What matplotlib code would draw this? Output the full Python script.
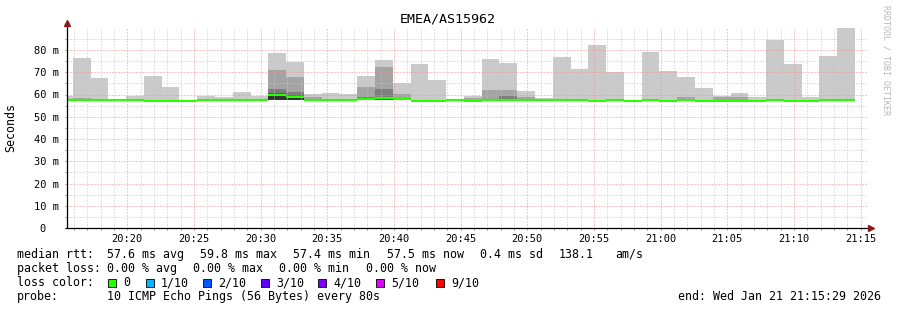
import numpy as np
import matplotlib
matplotlib.use("Agg")
import matplotlib.pyplot as plt
from matplotlib.patches import Rectangle

# ---------------- data ----------------
# time axis: seconds after window start (20:15:29); 80 s RRD steps
window_len = 3600
first_step_edge = 26
step_len = 80

# per step sorted-ping quantiles (ms); nan = layer not present
rtt_max = [59.3, 76.6, 67.4, 57.6, 59.3, 68.3, 63.4, 57.3, 59.2, 58.7,
           61.1, 59.3, 78.8, 74.6, 60.2, 60.7, 60.4, 68.3, 75.5, 65.0,
           73.9, 66.5, 57.6, 59.2, 75.8, 74.2, 61.6, 58.4, 77.0, 71.5,
           82.2, 70.1, 57.3, 79.3, 70.6, 67.9, 62.9, 59.3, 60.7, 58.7,
           84.5, 73.7, 58.9, 77.3, 89.9]
nan = np.nan
rtt_p9 = [nan, 58.4, nan, nan, nan, nan, nan, nan, nan, nan,
          nan, nan, 71.0, 67.9, 58.7, nan, nan, 63.4, 72.4, 60.2,
          nan, nan, nan, 58.5, 62.0, 62.0, 58.7, nan, nan, nan,
          nan, nan, nan, nan, nan, 58.7, nan, 59.1, 59.0, nan,
          nan, nan, nan, nan, nan]
rtt_p8 = [nan, nan, nan, nan, nan, nan, nan, nan, nan, nan,
          nan, nan, 62.5, 61.1, nan, nan, nan, 58.7, 62.5, nan,
          nan, nan, nan, nan, nan, 59.3, nan, nan, nan, nan,
          nan, nan, nan, nan, nan, nan, nan, nan, nan, nan,
          nan, nan, nan, nan, nan]
rtt_p7 = [nan, nan, nan, nan, nan, nan, nan, nan, nan, nan,
          nan, nan, 60.6, 59.6, nan, nan, nan, nan, 59.0, nan,
          nan, nan, nan, nan, nan, nan, nan, nan, nan, nan,
          nan, nan, nan, nan, nan, nan, nan, nan, nan, nan,
          nan, nan, nan, nan, nan]
rtt_p6 = [nan, nan, nan, nan, nan, nan, nan, nan, nan, nan,
          nan, nan, 59.5, 58.8, nan, nan, nan, nan, nan, nan,
          nan, nan, nan, nan, nan, nan, nan, nan, nan, nan,
          nan, nan, nan, nan, nan, nan, nan, nan, nan, nan,
          nan, nan, nan, nan, nan]
rtt_min = [57.3, 57.3, 57.3, 57.3, 57.3, 57.1, 57.1, 57.1, 57.3, 57.3,
           57.3, 57.3, 57.4, 57.4, 57.1, 57.3, 57.3, 57.4, 57.4, 57.4,
           57.1, 57.1, 57.3, 57.1, 57.3, 57.3, 57.3, 57.3, 57.3, 57.3,
           57.1, 57.2, 57.1, 57.3, 57.1, 57.3, 57.1, 57.1, 57.1, 57.1,
           57.3, 57.1, 57.1, 57.3, 57.3]
rtt_median = [57.6, 57.6, 57.6, 57.6, 57.6, 57.3, 57.3, 57.3, 57.6, 57.6,
              57.6, 57.6, 59.8, 59.0, 57.4, 57.6, 57.6, 58.1, 58.4, 58.0,
              57.3, 57.3, 57.6, 57.3, 57.6, 57.6, 57.6, 57.6, 57.6, 57.6,
              57.3, 57.5, 57.3, 57.7, 57.3, 57.6, 57.3, 57.3, 57.3, 57.3,
              57.6, 57.3, 57.3, 57.6, 57.6]

x_tick_labels = ["20:20", "20:25", "20:30", "20:35", "20:40", "20:45",
                 "20:50", "20:55", "21:00", "21:05", "21:10", "21:15"]
first_tick = 271          # 20:20:00 in seconds after 20:15:29
y_tick_values = [0, 10, 20, 30, 40, 50, 60, 70, 80]
y_tick_labels = ["0  ", "10 m", "20 m", "30 m", "40 m", "50 m", "60 m", "70 m", "80 m"]

loss_labels = ["0", "1/10", "2/10", "3/10", "4/10", "5/10", "9/10"]
loss_colors = ["#26ff00", "#00b8ff", "#0059ff", "#5e00ff", "#7e00ff", "#dd00ff", "#ff0000"]

title = "EMEA/AS15962"

# ---------------- figure ----------------
W, H = 897, 310
fig = plt.figure(figsize=(W / 100, H / 100), dpi=100)
fig.patch.set_facecolor("white")
MONO = "DejaVu Sans Mono"


def fx(x):
    return x / W


def fy(y):
    return 1 - y / H


ax = fig.add_axes([fx(67), fy(228), 800 / W, 200.25 / H])
ax.set_xlim(0, window_len)
ax.set_ylim(0, 90)
for s in ax.spines.values():
    s.set_visible(False)

n = len(rtt_max)
edges = np.array([0] + [first_step_edge + step_len * k for k in range(n)], dtype=float)
base = np.array(rtt_min)
layers = [rtt_max, rtt_p9, rtt_p8, rtt_p7, rtt_p6]
layer_colors = ["#cacaca", "#a4a4a4", "#7e7e7e", "#585858", "#323232"]
for vals, col in zip(layers, layer_colors):
    v = np.array(vals, dtype=float)
    v = np.where(np.isnan(v), base, v)
    ax.stairs(v, edges, baseline=base, fill=True, color=col, linewidth=0, zorder=1)

# grid
minor_x = np.arange(31, window_len, 60)
major_x = first_tick + 300 * np.arange(len(x_tick_labels))
for xv in minor_x:
    if np.min(np.abs(major_x - xv)) > 1:
        ax.axvline(xv, color="#c4c4c4", lw=0.72, ls=(0, (1, 2)), zorder=2)
for yv in np.arange(5, 90, 10):
    ax.axhline(yv, color="#c4c4c4", lw=0.72, ls=(0, (1, 2)), zorder=2)
for xv in major_x:
    ax.axvline(xv, color="#f59090", lw=0.72, ls=(0, (1, 2)), zorder=2.1)
for yv in y_tick_values[1:]:
    ax.axhline(yv, color="#f59090", lw=0.72, ls=(0, (1, 2)), zorder=2.1)

# median line
ax.hlines(rtt_median, edges[:-1], edges[1:], color=loss_colors[0], lw=1.5, zorder=3)

# axes with arrows
ax.plot([-0.002, 1.003], [0, 0], transform=ax.transAxes, color="black", lw=0.9,
        clip_on=False, zorder=4, solid_capstyle="butt")
ax.plot([0, 0], [0, 1.02], transform=ax.transAxes, color="black", lw=0.9,
        clip_on=False, zorder=4, solid_capstyle="butt")
ax.plot([1.005], [0], transform=ax.transAxes, marker=">", ms=4.5, color="#8b1a1a",
        mec="#8b1a1a", clip_on=False, zorder=5, ls="none")
ax.plot([0], [1.022], transform=ax.transAxes, marker="^", ms=4.5, color="#8b1a1a",
        mec="#8b1a1a", clip_on=False, zorder=5, ls="none")

ax.set_xticks(major_x)
ax.set_xticklabels(x_tick_labels, fontfamily=MONO, fontsize=7.5)
ax.set_xticks(minor_x, minor=True)
ax.set_yticks(y_tick_values)
ax.set_yticklabels(y_tick_labels, fontfamily=MONO, fontsize=7.5)
ax.set_yticks(np.arange(5, 90, 10), minor=True)
ax.tick_params(axis="both", which="both", length=1.5, width=0.7, color="#909090",
               direction="out")
ax.tick_params(axis="x", which="major", pad=3)
ax.tick_params(axis="y", which="major", pad=4.5)

# title and labels
fig.text(fx(448), fy(19), title, ha="center", va="center", fontfamily=MONO, fontsize=9.6)
fig.text(fx(11), fy(127), "Seconds", ha="center", va="center", rotation=90,
         fontfamily=MONO, fontsize=8.4)
fig.text(fx(886), fy(5), "RRDTOOL / TOBI OETIKER", ha="center", va="top", rotation=270,
         fontfamily=MONO, fontsize=6, color="#b8b8b8")

# legend
LS = 8.4


def txt(x, y, s, **kw):
    fig.text(fx(x), fy(y), s, ha=kw.pop("ha", "left"), va="center", fontfamily=MONO,
             fontsize=LS, **kw)


y1, y2, y3, y4 = 254.3, 268.3, 282.7, 296.7
txt(16.7, y1, "median rtt:")
for x, s in [(107.3, "57.6 ms avg"), (200, "59.8 ms max"), (293.3, "57.4 ms min"),
             (386.7, "57.5 ms now"), (480, "0.4 ms sd"), (558.3, "138.1"), (615.7, "am/s")]:
    txt(x, y1, s)
txt(16.7, y2, "packet loss:")
for x, s in [(107.3, "0.00 % avg"), (193.3, "0.00 % max"), (279.3, "0.00 % min"),
             (365.7, "0.00 % now")]:
    txt(x, y2, s)
txt(16.7, y3, "loss color:")
sw_x = [108.3, 146, 203.3, 261, 318.3, 376, 436]
for sx, lab, col in zip(sw_x, loss_labels, loss_colors):
    fig.patches.append(Rectangle((fx(sx), fy(286.7)), 7.5 / W, 7.5 / H,
                                 transform=fig.transFigure, facecolor=col,
                                 edgecolor="black", lw=0.6))
    txt(sx + 15, y3, lab)
txt(16.7, y4, "probe:")
txt(107.3, y4, "10 ICMP Echo Pings (56 Bytes) every 80s")
txt(880.5, y4, "end: Wed Jan 21 21:15:29 2026", ha="right")

fig.savefig("out.png", dpi=100, facecolor="white")
